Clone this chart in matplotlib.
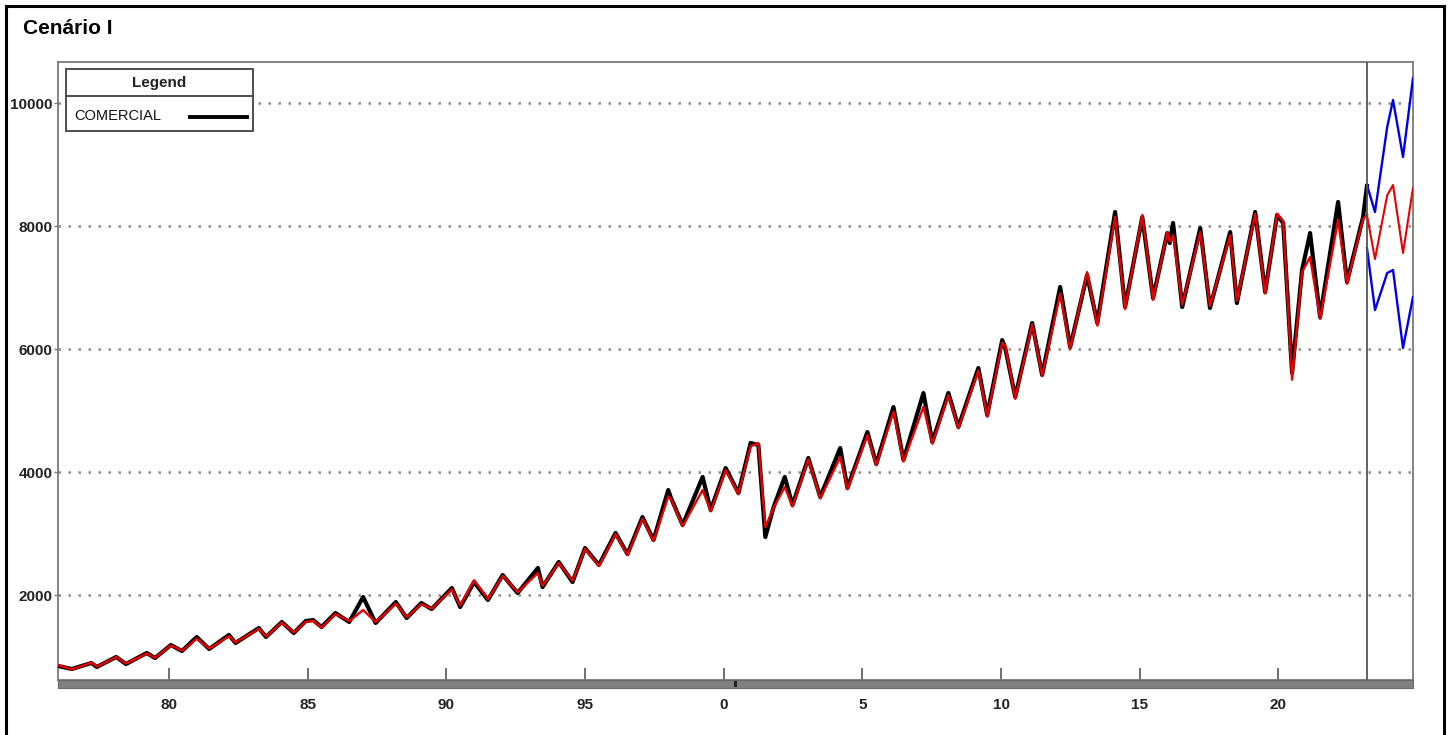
import matplotlib
matplotlib.use("Agg")
import matplotlib.pyplot as plt
from matplotlib.patches import Rectangle
from matplotlib.lines import Line2D

plt.rcParams["font.family"] = ["Liberation Sans", "DejaVu Sans"]

# historical series (turning points)
t_hist = [1976.00, 1976.50, 1977.20, 1977.40, 1978.10, 1978.45, 1979.20, 1979.50,
          1980.07, 1980.47, 1981.00, 1981.45, 1982.16, 1982.40, 1983.24, 1983.50,
          1984.07, 1984.50, 1984.93, 1985.20, 1985.50, 1986.00, 1986.50, 1987.00,
          1987.45, 1988.18, 1988.57, 1989.10, 1989.47, 1990.20, 1990.50, 1991.00,
          1991.50, 1992.03, 1992.57, 1993.30, 1993.47, 1994.05, 1994.55, 1995.00,
          1995.50, 1996.10, 1996.53, 1997.07, 1997.47, 1998.00, 1998.10, 1998.52,
          1999.24, 1999.53, 2000.07, 2000.53, 2000.97, 2001.25, 2001.50, 2001.80,
          2002.20, 2002.48, 2003.05, 2003.48, 2004.20, 2004.46, 2005.18, 2005.50,
          2006.12, 2006.48, 2007.20, 2007.52, 2008.10, 2008.46, 2009.18, 2009.50,
          2010.04, 2010.15, 2010.51, 2011.12, 2011.48, 2012.13, 2012.49, 2013.10,
          2013.47, 2014.11, 2014.47, 2015.09, 2015.48, 2015.99, 2016.08, 2016.20,
          2016.53, 2017.18, 2017.53, 2018.26, 2018.50, 2019.16, 2019.52, 2019.95,
          2020.17, 2020.49, 2020.85, 2021.14, 2021.50, 2022.15, 2022.47, 2023.05,
          2023.19]
comercial = [846, 797, 894, 830, 992, 878, 1057, 975,
             1187, 1089, 1317, 1122, 1350, 1220, 1463, 1317,
             1561, 1382, 1577, 1593, 1480, 1707, 1561, 1967,
             1545, 1886, 1626, 1870, 1772, 2114, 1805, 2211,
             1919, 2325, 2032, 2439, 2130, 2537, 2211, 2764,
             2488, 3008, 2667, 3268, 2894, 3707, 3577, 3138,
             3919, 3382, 4065, 3658, 4472, 4439, 2943, 3431,
             3919, 3463, 4228, 3593, 4390, 3740, 4650, 4130,
             5057, 4195, 5285, 4488, 5285, 4732, 5691, 4927,
             6146, 6016, 5219, 6423, 5577, 7008, 6032, 7203,
             6423, 8228, 6683, 8146, 6829, 7886, 7723, 8049,
             6683, 7967, 6667, 7902, 6748, 8228, 6927, 8179,
             8049, 5610, 7284, 7886, 6520, 8391, 7089, 8146,
             8650]
ajuste = [860, 790, 900, 835, 990, 885, 1050, 980,
          1180, 1095, 1290, 1130, 1330, 1230, 1450, 1325,
          1550, 1390, 1565, 1580, 1470, 1690, 1575, 1756,
          1560, 1860, 1640, 1850, 1780, 2090, 1830, 2240,
          1935, 2310, 2045, 2358, 2150, 2520, 2230, 2750,
          2470, 2990, 2650, 3240, 2880, 3600, 3560, 3120,
          3707, 3360, 4030, 3640, 4420, 4470, 3106, 3420,
          3756, 3440, 4210, 3570, 4244, 3720, 4600, 4110,
          4980, 4170, 5057, 4460, 5250, 4710, 5650, 4900,
          6100, 6050, 5190, 6400, 5560, 6900, 6000, 7250,
          6380, 8150, 6650, 8180, 6800, 7900, 7750, 7850,
          6720, 7900, 6700, 7850, 6780, 8200, 6900, 8200,
          8080, 5500, 7250, 7496, 6490, 8098, 7060, 8120,
          8180]

# forecast with bands
t_fc = [2023.19, 2023.48, 2023.92, 2024.13, 2024.49, 2024.85]
previsao = [8180, 7463, 8500, 8667, 7561, 8618]
limite_sup = [8667, 8228, 9610, 10049, 9122, 10407]
limite_inf = [7642, 6634, 7236, 7284, 6016, 6846]

y_ticks = [2000, 4000, 6000, 8000, 10000]
x_ticks = [1980, 1985, 1990, 1995, 2000, 2005, 2010, 2015, 2020]
x_labels = ["80", "85", "90", "95", "0", "5", "10", "15", "20"]
corte = 2023.19

W, H = 1454, 735
def fx(x): return x / W
def fy(y): return 1 - y / H

fig = plt.figure(figsize=(W / 100, H / 100), dpi=100)
ax = fig.add_axes([fx(58), fy(680), (1413 - 58) / W, (680 - 62) / H])

ax.plot(t_hist, comercial, color="black", lw=3.0, zorder=3, solid_joinstyle="round")
ax.plot(t_hist, ajuste, color="#e60000", lw=1.7, zorder=4, solid_joinstyle="round")
ax.plot(t_fc, previsao, color="#e60000", lw=1.5, zorder=4)
ax.plot(t_fc, limite_sup, color="#0000e6", lw=1.7, zorder=4)
ax.plot(t_fc, limite_inf, color="#0000e6", lw=1.7, zorder=4)
ax.axvline(corte, color="#555555", lw=1.3, zorder=5)

ax.set_xlim(1976.0, 2024.85)
ax.set_ylim(618, 10667)
ax.set_yticks(y_ticks)
ax.set_yticklabels([str(v) for v in y_ticks])
ax.set_xticks(x_ticks)
ax.set_xticklabels(x_labels)
for yv in y_ticks:
    ax.axhline(yv, color="#8c8c8c", lw=1.8, ls=(0, (1, 3)), zorder=1)

for s in ax.spines.values():
    s.set_color("#7a7a7a")
    s.set_linewidth(1.3)
ax.tick_params(axis="y", length=3, width=1, color="#7a7a7a", pad=1)
ax.tick_params(axis="x", direction="in", length=9, width=1.2, color="#555555", pad=13)
for lab in ax.get_xticklabels() + ax.get_yticklabels():
    lab.set_fontsize(11)
    lab.set_fontweight("bold")
    lab.set_color("#222222")

# gray scroll-like bar under the axis
fig.add_artist(Rectangle((fx(58), fy(688)), (1413 - 58) / W, 8 / H,
                         facecolor="#808080", edgecolor="#6a6a6a", lw=0.8,
                         transform=fig.transFigure, zorder=6))
fig.add_artist(Rectangle((fx(734), fy(687)), 3 / W, 6 / H,
                         facecolor="#222222", edgecolor="none",
                         transform=fig.transFigure, zorder=7))

# legend box
fig.add_artist(Rectangle((fx(66), fy(131)), (253 - 66) / W, (131 - 69) / H,
                         facecolor="white", edgecolor="#404040", lw=1.3,
                         transform=fig.transFigure, zorder=10))
fig.add_artist(Line2D([fx(66), fx(253)], [fy(96), fy(96)], color="#404040",
                      lw=1.3, transform=fig.transFigure, zorder=11))
fig.text(fx(159), fy(83), "Legend", ha="center", va="center", fontsize=11,
         fontweight="bold", color="#222222", zorder=11)
fig.text(fx(74), fy(116), "COMERCIAL", ha="left", va="center", fontsize=10.5,
         color="#111111", zorder=11)
fig.add_artist(Line2D([fx(190), fx(247)], [fy(117), fy(117)], color="black",
                      lw=2.8, transform=fig.transFigure, zorder=11))

# title and outer frame
fig.text(fx(23), fy(28), "Cenário I", ha="left", va="center", fontsize=15,
         fontweight="bold", color="black")
fig.add_artist(Rectangle((fx(6), fy(745)), (1444 - 6) / W, (745 - 6) / H,
                         facecolor="none", edgecolor="black", lw=2.2,
                         transform=fig.transFigure, zorder=12))

fig.savefig("out.png", dpi=100)
